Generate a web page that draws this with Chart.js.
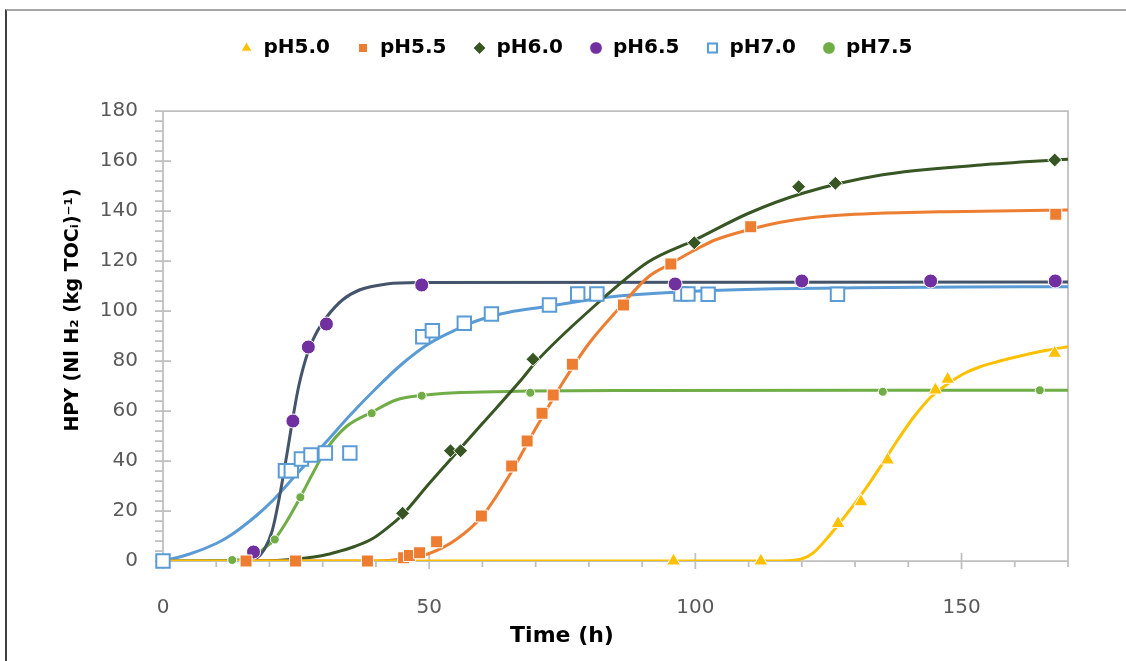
<!DOCTYPE html>
<html lang="en">
<head>
<meta charset="UTF-8">
<title>HPY vs time</title>
<script src="https://cdn.jsdelivr.net/npm/chart.js"></script>
<style>
    body { margin: 0; background: #fff; }
    .wrap { position: relative; width: 1126px; height: 661px; }
    .frame {
        position: absolute; left: 5px; top: 9px; right: 0; bottom: 0;
        border-left: 2px solid #404040; border-top: 2px solid #a6a6a6;
        pointer-events: none;
    }
</style>
</head>
<body>
<div class="wrap">
    <canvas id="chart" width="1126" height="661"></canvas>
    <div class="frame"></div>
</div>
<script>
// series names and axis ticks
const SERIES = ['pH5.0', 'pH5.5', 'pH6.0', 'pH6.5', 'pH7.0', 'pH7.5'];
const X_TICKS = [0, 50, 100, 150];
const Y_TICKS = [0, 20, 40, 60, 80, 100, 120, 140, 160, 180];

// measured points (time h, HPY)
const PH50_X = [95.9, 112.3, 126.8, 131.1, 136.1, 145.1, 147.4, 167.5];
const PH50_Y = [0, 0, 15, 23.7, 40.4, 68.4, 72.7, 83.1];
const PH55_X = [15.6, 24.9, 38.4, 45.2, 46.3, 48.2, 51.4, 59.8, 65.5, 68.4, 71.2, 73.3, 76.9, 86.5, 95.4, 110.4, 167.7];
const PH55_Y = [0, 0, 0, 1.3, 2.2, 3.3, 7.7, 18, 38, 48, 59.1, 66.4, 78.7, 102.4, 118.8, 133.7, 138.7];
const PH60_X = [45, 54, 55.9, 69.5, 99.8, 119.4, 126.3, 167.5];
const PH60_Y = [19.1, 44.1, 44.1, 80.7, 127.3, 149.7, 151.1, 160.4];
const PH65_X = [17, 24.4, 27.3, 30.7, 48.6, 96.2, 120, 144.2, 167.6];
const PH65_Y = [3.6, 56, 85.6, 94.8, 110.4, 110.8, 112, 112, 112];
const PH70_X = [0, 23, 24.1, 26, 27.8, 30.5, 35.1, 48.8, 50.6, 56.6, 61.7, 72.6, 77.9, 81.5, 97.3, 98.6, 102.4, 126.7];
const PH70_Y = [0, 36.1, 36.1, 40.8, 42.4, 43.2, 43.2, 89.7, 92.1, 95.1, 98.8, 102.4, 106.8, 106.8, 106.8, 106.8, 106.7, 106.7];
const PH75_X = [0, 13, 21, 25.8, 39.2, 48.6, 69, 135.2, 164.7];
const PH75_Y = [0, 0.4, 8.6, 25.5, 59.1, 66.1, 67.3, 67.7, 68.3];

// fitted curves
const FIT50_X = [0, 115, 119, 122, 125.5, 128.5, 131.8, 135, 138, 141, 144.3, 147.5, 150.5, 153.5, 156.7, 160, 163, 166, 170];
const FIT50_Y = [0, 0, 0.4, 3, 11, 19, 28.4, 38.5, 48.4, 57.5, 65.7, 71, 75, 77.7, 79.7, 81.5, 83, 84.3, 85.7];
const FIT55_X = [15.6, 40, 45, 50, 55, 60, 65, 70, 75, 80, 85, 91.2, 95, 100, 103.7, 110, 116, 122.4, 130, 140, 147.4, 160, 170];
const FIT55_Y = [0, 0, 0.8, 3, 8.5, 18, 34, 53, 71, 87, 99.5, 113.7, 118.5, 124.5, 128.4, 132.5, 135.5, 137.5, 138.7, 139.4, 139.7, 140.1, 140.4];
const FIT60_X = [17, 22, 26, 30, 33, 36, 39.4, 42, 45, 50, 55, 60, 67.5, 70, 80, 91.2, 100, 109.9, 120, 134.9, 153.6, 170];
const FIT60_Y = [0, 0.3, 1, 2.2, 3.8, 5.8, 9, 13, 18.5, 31, 43, 55, 73, 79.5, 100, 119.7, 128.5, 139, 147, 154.4, 158.4, 160.7];
const FIT65_X = [0, 16, 17.5, 19, 20.5, 22, 23.3, 24.3, 25.5, 27.3, 29, 30.7, 33.7, 37, 42, 48, 170];
const FIT65_Y = [0, 0, 1, 4.5, 12, 27, 43, 56, 70, 84, 92, 97.5, 104.4, 108.5, 110.8, 111.4, 111.6];
const FIT70_X = [0, 5, 10, 12.5, 15, 18, 20.7, 25, 30.6, 35, 40, 45, 50, 55, 59.4, 65, 71.8, 78, 84.3, 92, 101.8, 115, 130, 150, 170];
const FIT70_Y = [0, 2.8, 7, 10, 13.8, 19, 24.4, 34.5, 47.5, 58, 69, 79, 87, 92.5, 96.4, 99.5, 101.7, 103.8, 105.7, 107, 108.1, 108.9, 109.3, 109.6, 109.7];
const FIT75_X = [0, 13, 16, 17.5, 19, 21, 23, 25.8, 28, 30.6, 34.4, 39.2, 43.8, 48.6, 55, 62, 69, 90, 135, 170];
const FIT75_Y = [0, 0.3, 1, 2.5, 5, 8.7, 15, 25.5, 34.5, 44.4, 53.7, 59.5, 64.4, 66.2, 67.3, 67.7, 68, 68.2, 68.3, 68.3];

const POINTS_X = [PH50_X, PH55_X, PH60_X, PH65_X, PH70_X, PH75_X];
const POINTS_Y = [PH50_Y, PH55_Y, PH60_Y, PH65_Y, PH70_Y, PH75_Y];
const FITS_X = [FIT50_X, FIT55_X, FIT60_X, FIT65_X, FIT70_X, FIT75_X];
const FITS_Y = [FIT50_Y, FIT55_Y, FIT60_Y, FIT65_Y, FIT70_Y, FIT75_Y];

// styles
const MARKER_COLOR = ['#FFC000', '#ED7D31', '#375623', '#7030A0', '#FFFFFF', '#70AD47'];
const MARKER_EDGE = ['#FFFFFF', '#FFFFFF', '#FFFFFF', '#FFFFFF', '#5B9BD5', '#FFFFFF'];
const MARKER_EDGE_W = [1, 1, 1, 1, 2, 1];
const MARKER_STYLE = ['triangle', 'rect', 'rectRot', 'circle', 'rect', 'circle'];
const MARKER_SIZE = [8, 8.5, 7, 7, 9.5, 4.5];
const LINE_COLOR = ['#FFC000', '#ED7D31', '#375623', '#44546A', '#5B9BD5', '#70AD47'];

function toPoints(xs, ys) {
    return xs.map((x, i) => ({ x: x, y: ys[i] }));
}

const datasets = [];
SERIES.forEach((name, i) => {
    datasets.push({
        label: name,
        data: toPoints(POINTS_X[i], POINTS_Y[i]),
        showLine: false,
        pointStyle: MARKER_STYLE[i],
        pointRadius: MARKER_SIZE[i],
        backgroundColor: MARKER_COLOR[i],
        borderColor: MARKER_EDGE[i],
        borderWidth: MARKER_EDGE_W[i],
        clip: false,
        order: 0
    });
});
SERIES.forEach((name, i) => {
    datasets.push({
        label: name + ' fit',
        isCurve: true,
        data: toPoints(FITS_X[i], FITS_Y[i]),
        showLine: true,
        borderColor: LINE_COLOR[i],
        borderWidth: 3,
        pointRadius: 0,
        cubicInterpolationMode: 'monotone',
        order: 1
    });
});

// axis lines, border, major and minor tick marks, axis titles
const axisFrame = {
    id: 'axisFrame',
    beforeDatasetsDraw(chart) {
        const { ctx, chartArea: a, scales: { x, y } } = chart;
        ctx.save();
        ctx.strokeStyle = '#bfbfbf';
        ctx.lineWidth = 1.75;
        ctx.beginPath();
        ctx.rect(a.left, a.top, a.right - a.left, a.bottom - a.top);
        Y_TICKS.forEach(v => {
            const py = y.getPixelForValue(v);
            ctx.moveTo(a.left - 8, py);
            ctx.lineTo(a.left + 8, py);
        });
        for (let v = 4; v < 180; v += 4) {
            if (v % 20 === 0) continue;
            const py = y.getPixelForValue(v);
            ctx.moveTo(a.left - 8, py);
            ctx.lineTo(a.left, py);
        }
        X_TICKS.forEach(v => {
            const px = x.getPixelForValue(v);
            ctx.moveTo(px, a.bottom - 8);
            ctx.lineTo(px, a.bottom + 8);
        });
        for (let v = 10; v <= 170; v += 10) {
            if (v % 50 === 0) continue;
            const px = x.getPixelForValue(v);
            ctx.moveTo(px, a.bottom);
            ctx.lineTo(px, a.bottom + 6);
        }
        ctx.stroke();
        ctx.restore();
    },
    afterDraw(chart) {
        const ctx = chart.ctx;
        ctx.save();
        ctx.fillStyle = '#000';
        ctx.textAlign = 'center';
        ctx.textBaseline = 'middle';
        ctx.font = 'bold 22px "DejaVu Sans"';
        ctx.fillText('Time (h)', 562, 636);
        ctx.translate(73, 310);
        ctx.rotate(-Math.PI / 2);
        ctx.font = 'bold 19px "DejaVu Sans"';
        ctx.fillText('HPY (Nl H\u2082 (kg TOC\u1D62)\u207B\u00B9)', 0, 0);
        ctx.restore();
    }
};

new Chart(document.getElementById('chart'), {
    type: 'scatter',
    data: { datasets: datasets },
    plugins: [axisFrame],
    options: {
        responsive: false,
        animation: false,
        layout: { padding: { left: 84, right: 58, top: 12, bottom: 0 } },
        plugins: {
            tooltip: { enabled: false },
            legend: {
                position: 'top',
                labels: {
                    usePointStyle: true,
                    boxWidth: 14,
                    boxHeight: 9,
                    padding: 26,
                    color: '#000',
                    font: { family: 'DejaVu Sans', weight: 'bold', size: 20 },
                    filter: (item, data) => !data.datasets[item.datasetIndex].isCurve
                }
            },
            title: {
                display: true,
                text: '',
                position: 'top',
                weight: 500,
                font: { size: 10, lineHeight: 1 },
                padding: { top: 0, bottom: 33 }
            }
        },
        scales: {
            x: {
                type: 'linear',
                min: 0,
                max: 170,
                afterBuildTicks: s => { s.ticks = X_TICKS.map(v => ({ value: v })); },
                afterFit: s => { s.height = 100; },
                grid: { display: false, drawTicks: false },
                border: { display: false },
                ticks: { padding: 35, color: '#595959', font: { family: 'DejaVu Sans', size: 20 } }
            },
            y: {
                min: 0,
                max: 180,
                afterBuildTicks: s => { s.ticks = Y_TICKS.map(v => ({ value: v })); },
                afterFit: s => { s.width = 79; },
                grid: { display: false, drawTicks: false },
                border: { display: false },
                ticks: { padding: 25, color: '#595959', font: { family: 'DejaVu Sans', size: 20 } }
            }
        }
    }
});
</script>
</body>
</html>
